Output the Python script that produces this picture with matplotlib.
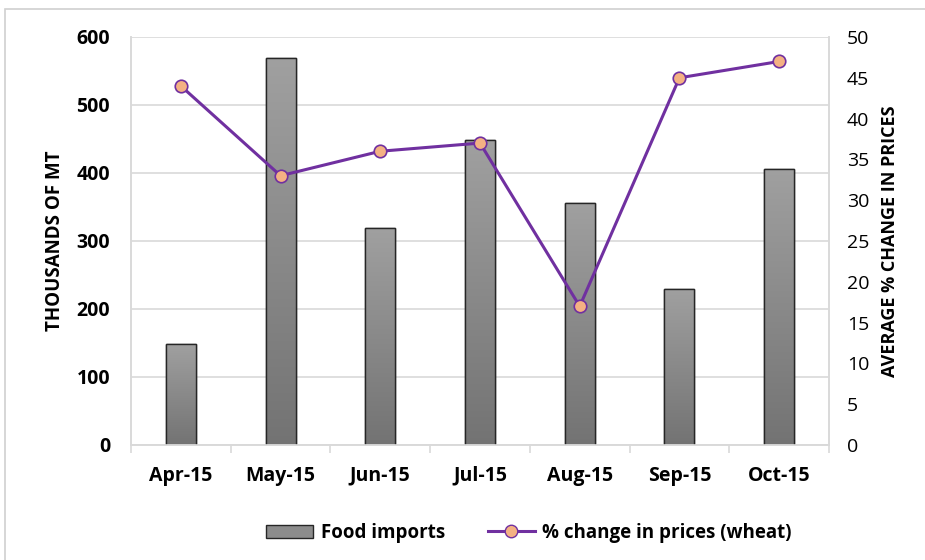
import numpy as np
import matplotlib.pyplot as plt
from matplotlib.colors import LinearSegmentedColormap
from matplotlib.patches import Rectangle
from matplotlib.lines import Line2D

months = ["Apr-15", "May-15", "Jun-15", "Jul-15", "Aug-15", "Sep-15", "Oct-15"]
food_imports = [148, 569, 319, 448, 356, 230, 406]
wheat_change = [44, 33, 36, 37, 17, 45, 47]

left_ticks = [0, 100, 200, 300, 400, 500, 600]
right_ticks = [0, 5, 10, 15, 20, 25, 30, 35, 40, 45, 50]

plt.rcParams["font.family"] = ["Open Sans", "DejaVu Sans"]

grid_col = "#d9d9d9"
purple = "#7030a0"
peach = "#f4b183"

fig = plt.figure(figsize=(9.25, 5.6), dpi=100)
ax = fig.add_axes([131 / 925, 1 - 445 / 560, 698 / 925, 408 / 560])
ax2 = ax.twinx()

x = np.arange(len(months))
bar_w = 0.3
bars = ax.bar(x, food_imports, width=bar_w, color="#8c8c8c",
              edgecolor="#262626", linewidth=1.0, zorder=2)

# vertical gradient inside each bar (light top, darker bottom)
grad_cmap = LinearSegmentedColormap.from_list("g", ["#737373", "#a0a0a0"])
grad = np.linspace(0, 1, 256).reshape(-1, 1)
for b in bars:
    im = ax.imshow(grad, extent=[b.get_x(), b.get_x() + b.get_width(), 0, b.get_height()],
                   origin="lower", aspect="auto", cmap=grad_cmap, zorder=2.5)
    im.set_clip_path(b)
    edge = Rectangle((b.get_x(), 0), b.get_width(), b.get_height(), fill=False,
                     edgecolor="#262626", linewidth=1.0, zorder=3)
    ax.add_patch(edge)

ax.set_xlim(-0.5, len(months) - 0.5)
ax.set_ylim(0, 600)
ax.set_yticks(left_ticks)
ax.yaxis.grid(True, color=grid_col, linewidth=1.2, zorder=0)
ax.set_axisbelow(True)
ax.set_xticks(x)
ax.set_xticklabels(months, fontsize=14, fontweight="bold")
ax.set_xticks(np.arange(len(months) + 1) - 0.5, minor=True)
ax.tick_params(axis="x", which="major", length=0, pad=15)
ax.tick_params(axis="x", which="minor", length=6, color=grid_col, width=1.2)
ax.tick_params(axis="y", length=0, pad=15, labelsize=14)
for lbl in ax.get_yticklabels():
    lbl.set_fontweight("bold")
ax.set_ylabel("THOUSANDS OF MT", fontsize=13.5, fontweight="bold", labelpad=8)

ax2.plot(x, wheat_change, color=purple, linewidth=2.2, marker="o",
         markersize=9, markerfacecolor=peach, markeredgecolor=purple,
         markeredgewidth=1.2, zorder=4)
ax2.set_ylim(0, 50)
ax2.set_yticks(right_ticks)
ax2.tick_params(axis="y", length=0, pad=13, labelsize=14)
ax2.set_ylabel("AVERAGE % CHANGE IN PRICES", fontsize=13, fontweight="bold", labelpad=8)

for a in (ax, ax2):
    a.spines["top"].set_visible(False)
    for s in ("left", "right", "bottom"):
        a.spines[s].set_color(grid_col)
        a.spines[s].set_linewidth(1.2)

# outer chart border
fig.patches.append(Rectangle((5 / 925, -0.05), 1.1, 1 - 9 / 560 + 0.05,
                             transform=fig.transFigure, fill=False,
                             edgecolor="#d0d0d0", linewidth=1.2))

handles = [
    Rectangle((0, 0), 1, 1, facecolor="#8c8c8c", edgecolor="#262626"),
    Line2D([], [], color=purple, linewidth=2.2, marker="o", markersize=9,
           markerfacecolor=peach, markeredgecolor=purple),
]
fig.legend(handles, ["Food imports", "% change in prices (wheat)"],
           loc="center", bbox_to_anchor=(529 / 925, 1 - 533 / 560), ncol=2,
           frameon=False, prop={"size": 13.5, "weight": "bold"},
           columnspacing=2.3, handlelength=2.5, handletextpad=0.4)

fig.savefig("out.png", dpi=100)
